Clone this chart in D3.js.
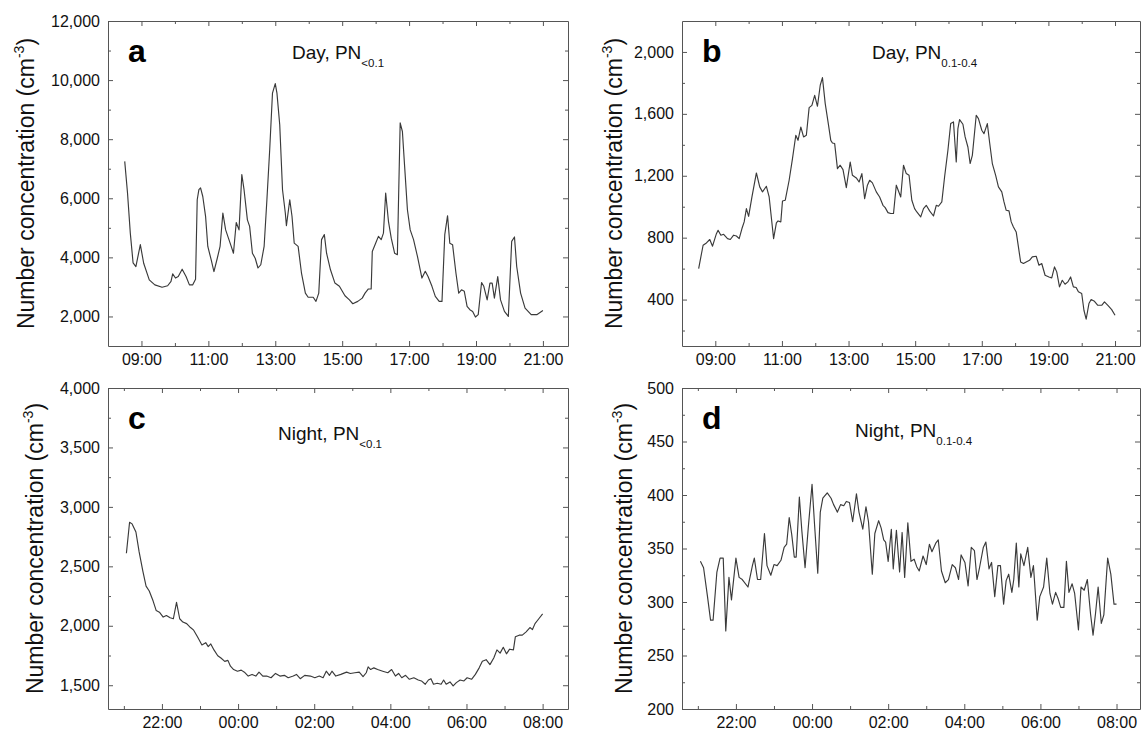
<!DOCTYPE html>
<html>
<head>
<meta charset="utf-8">
<script src="https://cdn.jsdelivr.net/npm/d3@7"></script>
<style>
  body { margin: 0; background: #fff; }
  svg text { font-family: Arial, "Liberation Sans", sans-serif; }
</style>
</head>
<body>
<svg id="chart" width="1142" height="737"></svg>
<script>
// a: day, PN<0.1
const timesA = ["08:30","08:35","08:40","08:45","08:50","08:58","09:04","09:14","09:24","09:37","09:47","09:53","09:56","10:01","10:06","10:13","10:20","10:26","10:32","10:37","10:40","10:43","10:46","10:50","10:55","10:59","11:05","11:10","11:16","11:21","11:26","11:31","11:36","11:41","11:45","11:50","11:55","12:00","12:04","12:10","12:14","12:19","12:24","12:29","12:34","12:40","12:45","12:50","12:55","13:00","13:03","13:08","13:13","13:18","13:20","13:26","13:30","13:34","13:41","13:47","13:54","13:59","14:08","14:13","14:18","14:23","14:28","14:32","14:39","14:47","14:55","15:05","15:13","15:19","15:28","15:36","15:41","15:47","15:52","15:54","16:00","16:05","16:10","16:14","16:18","16:23","16:28","16:34","16:39","16:44","16:48","16:52","16:57","17:02","17:08","17:15","17:23","17:29","17:34","17:41","17:47","17:54","17:59","18:04","18:09","18:13","18:18","18:24","18:29","18:34","18:39","18:44","18:49","18:54","18:59","19:04","19:10","19:14","19:20","19:25","19:29","19:33","19:39","19:44","19:51","19:58","20:04","20:09","20:13","20:20","20:28","20:39","20:49","21:00"];
const valuesA = [7250,6180,4820,3810,3690,4430,3800,3240,3070,2990,3040,3190,3440,3300,3350,3600,3350,3070,3070,3260,5950,6290,6350,6060,5390,4370,3920,3520,3970,4370,5500,4930,4650,4370,4140,5180,4930,6800,6290,5270,5050,4140,3970,3640,3750,4370,5950,7640,9560,9880,9560,8490,6290,5500,5070,5950,5390,4480,4370,3470,2790,2650,2650,2510,2790,4600,4770,4140,3580,3130,3020,2700,2560,2430,2510,2620,2790,2930,2930,4200,4480,4710,4600,4820,6180,5220,4650,4140,4090,8550,8260,7080,5610,4930,4600,4030,3300,3530,3350,3020,2680,2510,2510,4770,5410,4480,4430,3470,2790,2900,2850,2340,2230,2170,1980,2060,3150,3020,2560,3130,3130,2620,3350,2560,2170,2000,4540,4690,3690,2790,2280,2060,2060,2200];

// b: day, PN0.1-0.4
const timesB = ["08:30","08:34","08:38","08:44","08:50","08:55","09:02","09:05","09:10","09:15","09:22","09:27","09:33","09:38","09:43","09:48","09:52","09:56","10:00","10:06","10:14","10:20","10:25","10:32","10:37","10:45","10:50","10:53","10:58","11:01","11:06","11:13","11:19","11:25","11:29","11:34","11:39","11:44","11:49","11:54","11:59","12:04","12:09","12:13","12:18","12:24","12:28","12:31","12:35","12:40","12:45","12:50","12:56","13:03","13:07","13:14","13:19","13:24","13:29","13:34","13:38","13:43","13:50","13:56","14:02","14:06","14:11","14:16","14:21","14:26","14:34","14:39","14:44","14:49","14:54","14:59","15:03","15:10","15:15","15:20","15:26","15:33","15:38","15:42","15:48","15:53","15:59","16:04","16:09","16:14","16:17","16:20","16:26","16:30","16:35","16:39","16:43","16:50","16:54","17:00","17:04","17:10","17:14","17:19","17:25","17:30","17:36","17:40","17:44","17:49","17:53","17:57","18:02","18:06","18:10","18:15","18:20","18:26","18:31","18:38","18:43","18:48","18:54","19:01","19:06","19:11","19:15","19:20","19:25","19:30","19:35","19:40","19:45","19:50","19:54","20:00","20:04","20:08","20:13","20:17","20:23","20:29","20:36","20:41","20:48","20:54","21:00"];
const valuesB = [600,676,751,766,788,745,826,848,816,822,794,788,816,811,794,859,902,988,938,1063,1218,1128,1096,1132,1063,794,895,908,902,1037,1042,1171,1311,1462,1429,1515,1451,1462,1640,1655,1720,1649,1785,1834,1666,1526,1429,1412,1408,1246,1268,1240,1123,1289,1203,1186,1160,1214,1052,1139,1171,1154,1096,1063,1009,994,962,956,956,1139,1063,1268,1214,1203,1042,988,966,934,988,1009,973,940,1009,1003,1031,1192,1365,1537,1548,1289,1505,1563,1533,1451,1386,1279,1332,1591,1569,1494,1472,1537,1418,1279,1203,1128,1096,1031,977,973,902,869,837,740,643,633,643,654,676,680,622,633,557,546,540,611,579,482,525,499,514,546,482,478,450,439,331,273,374,400,389,363,363,385,359,335,299];

// c: night, PN<0.1
const timesC = ["21:04","21:09","21:13","21:19","21:24","21:30","21:35","21:40","21:46","21:51","21:56","22:02","22:07","22:13","22:18","22:23","22:28","22:33","22:39","22:45","22:50","22:56","23:03","23:09","23:13","23:17","23:22","23:28","23:33","23:39","23:44","23:48","23:53","23:59","00:05","00:10","00:16","00:22","00:28","00:33","00:39","00:45","00:52","00:59","01:06","01:13","01:19","01:27","01:32","01:38","01:45","01:54","02:01","02:08","02:14","02:19","02:24","02:28","02:34","02:42","02:51","02:57","03:04","03:11","03:17","03:22","03:25","03:29","03:34","03:40","03:48","03:56","04:02","04:08","04:13","04:18","04:24","04:30","04:37","04:44","04:49","04:55","05:00","05:04","05:08","05:14","05:20","05:24","05:28","05:34","05:39","05:44","05:50","05:56","06:01","06:08","06:14","06:20","06:25","06:31","06:37","06:43","06:48","06:53","06:58","07:03","07:08","07:14","07:17","07:23","07:28","07:34","07:40","07:44","07:48","07:54","08:00"];
const valuesC = [2610,2871,2857,2789,2623,2458,2334,2293,2210,2128,2114,2073,2086,2067,2059,2197,2059,2031,2018,1985,1963,1907,1839,1858,1825,1847,1797,1748,1729,1701,1709,1660,1632,1618,1627,1610,1577,1591,1577,1610,1577,1577,1563,1599,1577,1583,1563,1577,1591,1555,1583,1577,1563,1577,1563,1618,1583,1618,1577,1591,1610,1599,1605,1610,1572,1605,1654,1632,1646,1632,1618,1605,1632,1577,1599,1563,1583,1550,1563,1544,1536,1508,1544,1555,1508,1517,1508,1544,1508,1528,1494,1522,1544,1536,1563,1550,1591,1646,1701,1715,1673,1729,1797,1770,1819,1764,1803,1797,1907,1921,1921,1949,1985,1968,2018,2059,2100];

// d: night, PN0.1-0.4
const timesD = ["21:04","21:09","21:15","21:20","21:24","21:30","21:35","21:40","21:44","21:49","21:53","22:00","22:05","22:10","22:19","22:26","22:29","22:34","22:39","22:45","22:49","22:55","23:00","23:05","23:11","23:16","23:20","23:24","23:28","23:32","23:35","23:40","23:44","23:49","23:54","00:00","00:04","00:09","00:13","00:17","00:24","00:30","00:34","00:40","00:45","00:50","00:54","00:59","01:04","01:10","01:14","01:20","01:25","01:29","01:35","01:39","01:45","01:49","01:53","01:56","02:00","02:05","02:08","02:13","02:18","02:22","02:26","02:31","02:36","02:41","02:45","02:49","02:55","03:00","03:05","03:09","03:15","03:19","03:24","03:30","03:35","03:41","03:46","03:51","03:55","04:01","04:06","04:11","04:16","04:20","04:24","04:30","04:34","04:39","04:43","04:48","04:53","04:57","05:02","05:06","05:10","05:15","05:18","05:22","05:26","05:29","05:34","05:40","05:45","05:49","05:55","05:59","06:05","06:10","06:15","06:19","06:24","06:28","06:32","06:37","06:41","06:45","06:50","06:54","07:00","07:04","07:09","07:14","07:19","07:23","07:27","07:31","07:36","07:40","07:46","07:51","07:56","08:00"];
const valuesD = [338,332,306,283,283,328,341,341,273,323,302,341,323,321,314,334,341,321,321,364,334,325,335,334,339,351,354,379,363,342,342,398,366,332,369,410,372,327,384,397,402,397,391,384,391,390,394,393,375,401,384,368,389,375,326,364,376,369,358,356,338,368,331,367,328,365,323,374,338,340,333,329,343,335,354,347,355,358,329,318,321,335,332,321,344,337,315,351,348,321,332,351,356,331,337,305,334,334,298,320,326,309,321,355,314,345,334,351,323,334,283,305,314,341,308,298,309,303,295,295,338,309,317,308,274,314,311,321,289,269,290,314,280,288,341,326,298,298];

// tick labels
const dayMajor = ["09:00","11:00","13:00","15:00","17:00","19:00","21:00"];
const dayMinor = ["10:00","12:00","14:00","16:00","18:00","20:00"];
const nightMajor = ["22:00","00:00","02:00","04:00","06:00","08:00"];
const nightMinor = ["21:00","23:00","01:00","03:00","05:00","07:00"];
const yMajorA = [2000,4000,6000,8000,10000,12000];
const yMinorA = [3000,5000,7000,9000,11000];
const yMajorB = [400,800,1200,1600,2000];
const yMinorB = [200,600,1000,1400,1800];
const yMajorC = [1500,2000,2500,3000,3500,4000];
const yMinorC = [1750,2250,2750,3250,3750];
const yMajorD = [200,250,300,350,400,450,500];
const yMinorD = [225,275,325,375,425,475];

const parseHM = d3.timeParse('%H:%M');
const fmtHM = d3.timeFormat('%H:%M');
const toDay = s => parseHM(s);
const toNight = s => {
    let t = parseHM(s);
    return t.getHours() < 12 ? d3.timeDay.offset(t, 1) : t;
};

const svg = d3.select('#chart');
const lineColor = '#3a3a3a', axisColor = '#555';

const panels = [
    {letter: 'a', left: 108, top: 21, width: 460, height: 325, times: timesA, values: valuesA, toTime: toDay,
     xDomain: ['08:00', '21:45'], xMajor: dayMajor, xMinor: dayMinor,
     yDomain: [1000, 12000], yMajor: yMajorA, yMinor: yMinorA,
     main: 'Day, PN', sub: '<0.1', titleX: 292, titleY: 59, labelX: 26},
    {letter: 'b', left: 682, top: 21, width: 458, height: 325, times: timesB, values: valuesB, toTime: toDay,
     xDomain: ['08:00', '21:45'], xMajor: dayMajor, xMinor: dayMinor,
     yDomain: [100, 2200], yMajor: yMajorB, yMinor: yMinorB,
     main: 'Day, PN', sub: '0.1-0.4', titleX: 872, titleY: 59, labelX: 614},
    {letter: 'c', left: 108, top: 388, width: 460, height: 321, times: timesC, values: valuesC, toTime: toNight,
     xDomain: ['20:35', '08:40'], xMajor: nightMajor, xMinor: nightMinor,
     yDomain: [1300, 4000], yMajor: yMajorC, yMinor: yMinorC,
     main: 'Night, PN', sub: '<0.1', titleX: 278, titleY: 440, labelX: 35},
    {letter: 'd', left: 682, top: 388, width: 458, height: 321, times: timesD, values: valuesD, toTime: toNight,
     xDomain: ['20:35', '08:37'], xMajor: nightMajor, xMinor: nightMinor,
     yDomain: [200, 500], yMajor: yMajorD, yMinor: yMinorD,
     main: 'Night, PN', sub: '0.1-0.4', titleX: 855, titleY: 437, labelX: 624}
];

function styleAxis(g) {
    g.attr('color', axisColor).attr('font-size', 16)
        .attr('font-family', 'Arial, "Liberation Sans", sans-serif');
    g.selectAll('text').attr('fill', '#111');
}

function drawPanel(p) {
    let x = d3.scaleTime()
        .domain(p.xDomain.map(p.toTime))
        .range([0, p.width]);
    let y = d3.scaleLinear()
        .domain(p.yDomain)
        .range([p.height, 0]);

    let g = svg.append('g')
        .attr('transform', `translate(${p.left}, ${p.top})`);

    let xMaj = p.xMajor.map(p.toTime), xMin = p.xMinor.map(p.toTime);

    // labelled axes
    g.append('g')
        .attr('transform', `translate(0, ${p.height})`)
        .call(d3.axisBottom(x).tickValues(xMaj).tickFormat(fmtHM)
            .tickSizeInner(-5).tickSizeOuter(0).tickPadding(8))
        .call(styleAxis);
    g.append('g')
        .call(d3.axisLeft(y).tickValues(p.yMajor).tickFormat(d3.format(','))
            .tickSizeInner(-5).tickSizeOuter(0).tickPadding(8))
        .call(styleAxis);

    // mirrored axes, no labels
    g.append('g')
        .call(d3.axisTop(x).tickValues(xMaj).tickFormat('')
            .tickSizeInner(-5).tickSizeOuter(0))
        .call(styleAxis);
    g.append('g')
        .attr('transform', `translate(${p.width}, 0)`)
        .call(d3.axisRight(y).tickValues(p.yMajor).tickFormat('')
            .tickSizeInner(-5).tickSizeOuter(0))
        .call(styleAxis);

    // minor ticks on all four sides
    let minors = [
        [d3.axisBottom(x).tickValues(xMin), `translate(0, ${p.height})`],
        [d3.axisTop(x).tickValues(xMin), 'translate(0, 0)'],
        [d3.axisLeft(y).tickValues(p.yMinor), 'translate(0, 0)'],
        [d3.axisRight(y).tickValues(p.yMinor), `translate(${p.width}, 0)`]
    ];
    minors.forEach(([ax, tr]) => {
        g.append('g')
            .attr('transform', tr)
            .call(ax.tickFormat('').tickSizeInner(-3).tickSizeOuter(0))
            .call(a => a.select('.domain').remove())
            .attr('color', axisColor);
    });

    let line = d3.line()
        .x((d, i) => x(p.toTime(p.times[i])))
        .y(d => y(d));

    g.append('path')
        .datum(p.values)
        .attr('fill', 'none')
        .attr('stroke', lineColor)
        .attr('stroke-width', 1.15)
        .attr('stroke-linejoin', 'round')
        .attr('d', line);

    // panel letter
    g.append('text')
        .attr('x', 20)
        .attr('y', 41)
        .attr('font-size', 32)
        .attr('font-weight', 'bold')
        .attr('fill', '#000')
        .text(p.letter);

    // title with subscript
    let title = g.append('text')
        .attr('x', p.titleX - p.left)
        .attr('y', p.titleY - p.top)
        .attr('font-size', 19)
        .attr('fill', '#111');
    title.append('tspan').text(p.main);
    title.append('tspan').attr('font-size', 11.5).attr('dy', 8).text(p.sub);

    // y axis title
    let yl = svg.append('text')
        .attr('transform', `translate(${p.labelX}, ${p.top + p.height / 2}) rotate(-90)`)
        .attr('text-anchor', 'middle')
        .attr('dy', '0.35em')
        .attr('font-size', 23)
        .attr('fill', '#111');
    yl.append('tspan').text('Number concentration (cm');
    yl.append('tspan').attr('font-size', 14).attr('dy', -10).text('-3');
    yl.append('tspan').attr('dy', 10).text(')');
}

panels.forEach(drawPanel);
</script>
</body>
</html>
